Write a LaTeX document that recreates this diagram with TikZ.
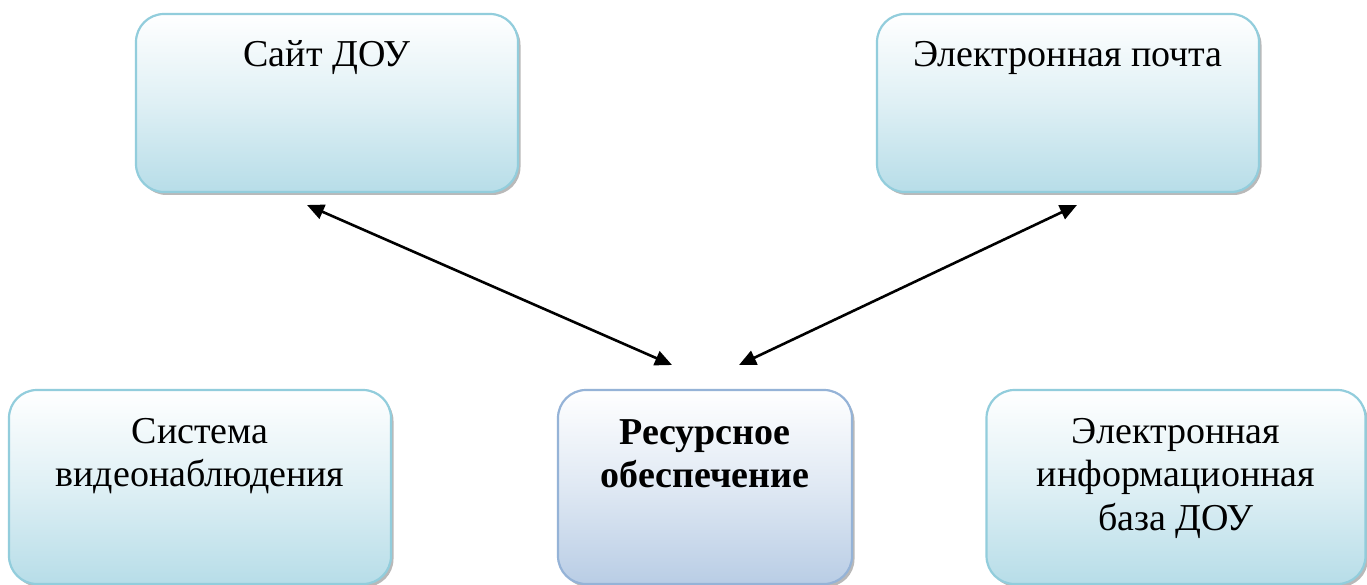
\documentclass[tikz,border=0pt]{standalone}
\usepackage{fontspec}
\setmainfont{Liberation Serif}
\usetikzlibrary{arrows.meta,shadows}
\definecolor{cyanline}{RGB}{146,205,220}
\definecolor{cyanfill}{RGB}{183,221,232}
\definecolor{blueline}{RGB}{149,179,215}
\definecolor{bluefill}{RGB}{185,205,229}
\begin{document}
\begin{tikzpicture}[x=1pt,y=-1pt,
  boxbase/.style={rectangle, rounded corners=28pt, line width=2.2pt, inner sep=0pt,
    drop shadow={shadow xshift=2.5pt, shadow yshift=-3pt, fill=black!50, opacity=0.55}},
  cyanbox/.style={boxbase, draw=cyanline, top color=white, bottom color=cyanfill, middle color=cyanfill!45},
  bluebox/.style={boxbase, draw=blueline, top color=white, bottom color=bluefill, middle color=bluefill!45},
  label/.style={anchor=base, inner sep=0pt, font=\fontsize{38}{43.5}\selectfont},
  conn/.style={line width=2.6pt, {Triangle[length=17pt,width=15pt]}-{Triangle[length=17pt,width=15pt]}}
]
\fill[white] (0,0) rectangle (1367,585);
\useasboundingbox (0,0) rectangle (1367,585);
\clip (0,0) rectangle (1367,585);

\node[cyanbox, minimum width=382pt, minimum height=178pt] (site) at (327,103) {};
\node[cyanbox, minimum width=382pt, minimum height=178pt] (mail) at (1068,103) {};
\node[cyanbox, minimum width=382pt, minimum height=194pt] (video) at (200,487) {};
\node[bluebox, minimum width=294pt, minimum height=194pt] (res) at (705,487) {};
\node[cyanbox, minimum width=379pt, minimum height=194pt] (base) at (1176,487) {};

\node[label] (siteT) at (327,67) {Сайт ДОУ};
\node[label] (mailT) at (1068,67) {Электронная почта};
\node[label] (videoT) at (200,443) {\begin{tabular}[t]{@{}c@{}}Система\\видеонаблюдения\end{tabular}};
\node[label] (resT) at (705,444) {\bfseries\begin{tabular}[t]{@{}c@{}}Ресурсное\\обеспечение\end{tabular}};
\node[label] (baseT) at (1176,443) {\begin{tabular}[t]{@{}c@{}}Электронная\\информационная\\база ДОУ\end{tabular}};

\coordinate (a1) at (307,205);
\coordinate (a2) at (672,365);
\coordinate (b1) at (739,365);
\coordinate (b2) at (1077,205);
\draw[conn] (a1) -- (a2);
\draw[conn] (b1) -- (b2);
\end{tikzpicture}
\end{document}
